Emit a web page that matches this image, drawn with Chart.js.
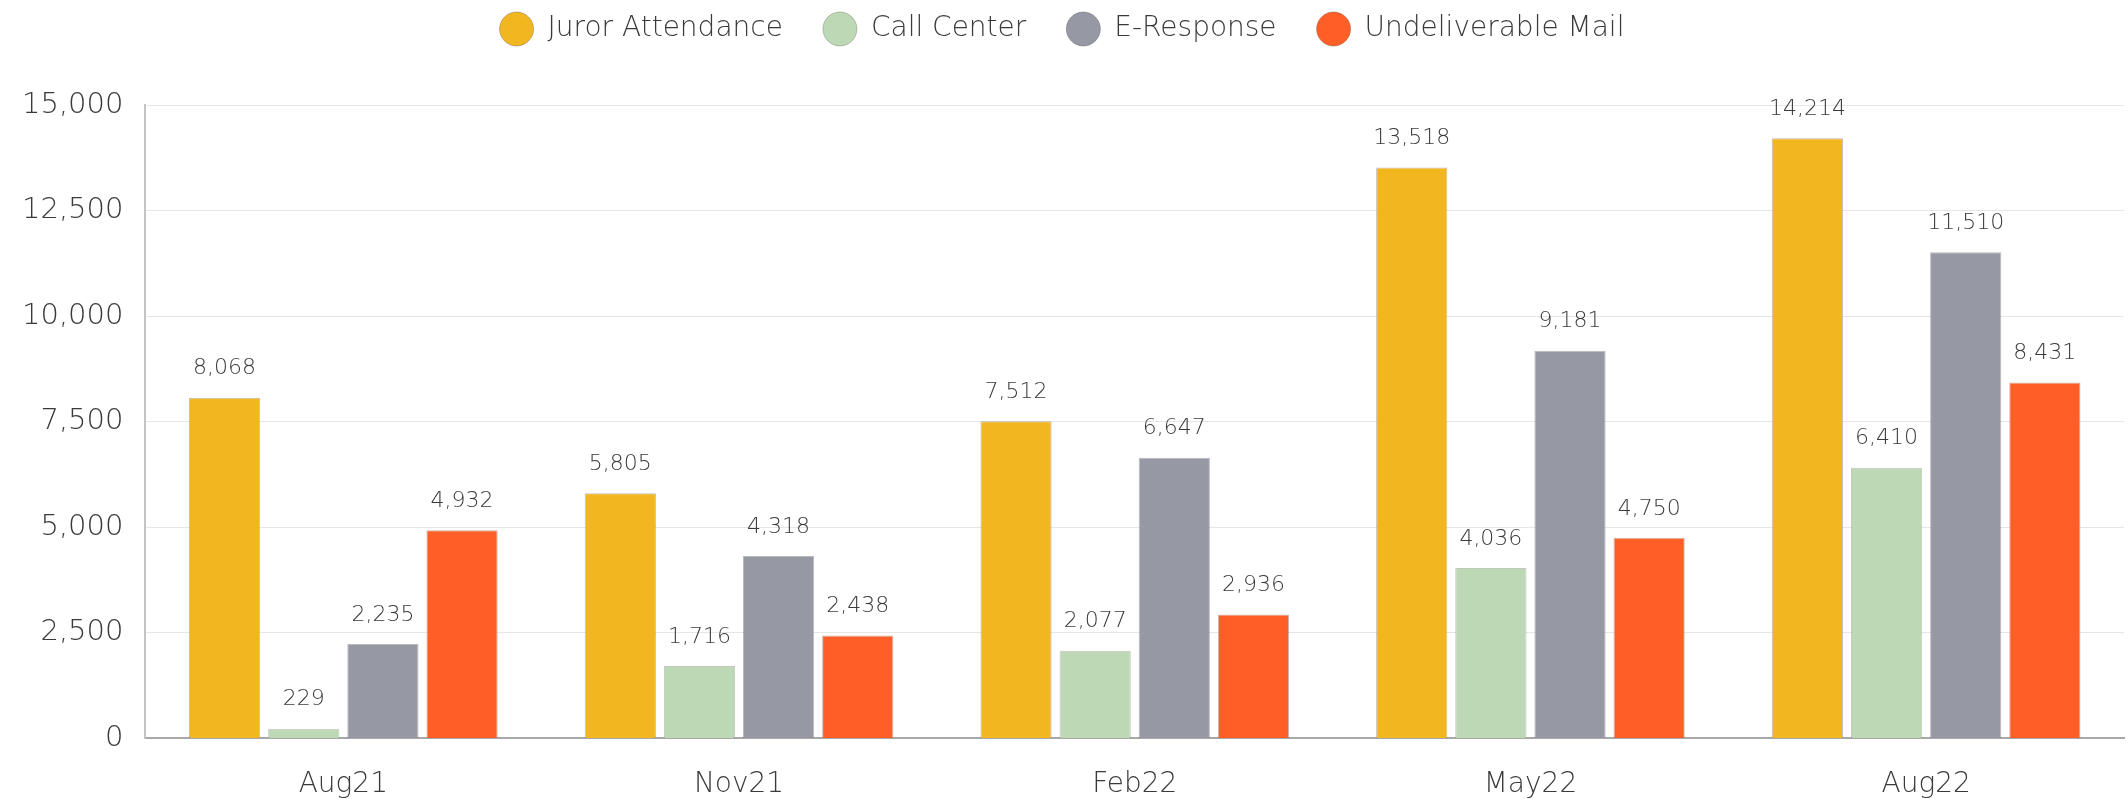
<!DOCTYPE html>
<html>
<head>
<meta charset="utf-8">
<script src="https://cdn.jsdelivr.net/npm/chart.js@4.4.1/dist/chart.umd.min.js"></script>
<style>
html,body{margin:0;padding:0;background:#fff;}
#wrap{width:2128px;height:799px;position:relative;}
</style>
</head>
<body>
<div id="wrap"><canvas id="c"></canvas></div>
<script>
const categories = ['Aug21', 'Nov21', 'Feb22', 'May22', 'Aug22'];
const jurorAttendance = [8068, 5805, 7512, 13518, 14214];
const callCenter = [229, 1716, 2077, 4036, 6410];
const eResponse = [2235, 4318, 6647, 9181, 11510];
const undeliverableMail = [4932, 2438, 2936, 4750, 8431];
const yTicks = [0, 2500, 5000, 7500, 10000, 12500, 15000];

const FONT = "'DejaVu Sans', sans-serif";
const WEIGHT = 300;
const TEXT = '#3a3a3a';

const valueLabels = {
  id: 'valueLabels',
  afterDatasetsDraw(chart) {
    const ctx = chart.ctx;
    ctx.save();
    ctx.font = WEIGHT + " 22px " + FONT;
    ctx.fillStyle = TEXT;
    ctx.textAlign = 'center';
    ctx.textBaseline = 'bottom';
    chart.data.datasets.forEach((ds, i) => {
      const meta = chart.getDatasetMeta(i);
      meta.data.forEach((el, j) => {
        ctx.fillText(ds.data[j].toLocaleString('en-US'), el.x, el.y - 18);
      });
    });
    ctx.restore();
  }
};

const legendFit = {
  id: 'legendFit',
  beforeInit(chart) {
    const orig = chart.legend.fit;
    chart.legend.fit = function() {
      orig.call(this);
      this.height = 130;
    };
  }
};

new Chart(document.getElementById('c'), {
  type: 'bar',
  data: {
    labels: categories,
    datasets: [
      { label: 'Juror Attendance', data: jurorAttendance, backgroundColor: '#F2B61F', borderColor: 'rgba(120,110,90,0.45)', borderWidth: 1 },
      { label: 'Call Center', data: callCenter, backgroundColor: '#BDD8B4', borderColor: 'rgba(120,130,110,0.45)', borderWidth: 1 },
      { label: 'E-Response', data: eResponse, backgroundColor: '#9698A4', borderColor: 'rgba(100,100,110,0.45)', borderWidth: 1 },
      { label: 'Undeliverable Mail', data: undeliverableMail, backgroundColor: '#FF5F26', borderColor: 'rgba(140,90,70,0.45)', borderWidth: 1 }
    ]
  },
  options: {
    responsive: true,
    maintainAspectRatio: false,
    animation: false,
    devicePixelRatio: 1,
    layout: { padding: { top: -25, left: 0, right: 4, bottom: -33 } },
    plugins: {
      tooltip: { enabled: false },
      legend: {
        position: 'top',
        labels: {
          usePointStyle: true,
          pointStyle: 'circle',
          pointStyleWidth: 34,
          boxHeight: 24,
          padding: 40,
          color: TEXT,
          font: { family: FONT, size: 28, weight: WEIGHT }
        }
      }
    },
    scales: {
      x: {
        grid: { display: false, drawTicks: false },
        border: { display: true, color: '#a8a8a8', width: 2 },
        ticks: { color: TEXT, font: { family: FONT, size: 28, weight: WEIGHT }, padding: 30 }
      },
      y: {
        min: 0,
        max: 15000,
        afterBuildTicks(axis) { axis.ticks = yTicks.map(v => ({ value: v })); },
        grid: { color: '#e6e6e6', lineWidth: 1, drawTicks: false },
        border: { display: true, color: '#c4c4c4', width: 2 },
        ticks: {
          color: TEXT,
          font: { family: FONT, size: 29, weight: WEIGHT },
          padding: 22,
          callback: v => Number(v).toLocaleString('en-US')
        }
      }
    }
  },
  plugins: [valueLabels, legendFit]
});
</script>
</body>
</html>
